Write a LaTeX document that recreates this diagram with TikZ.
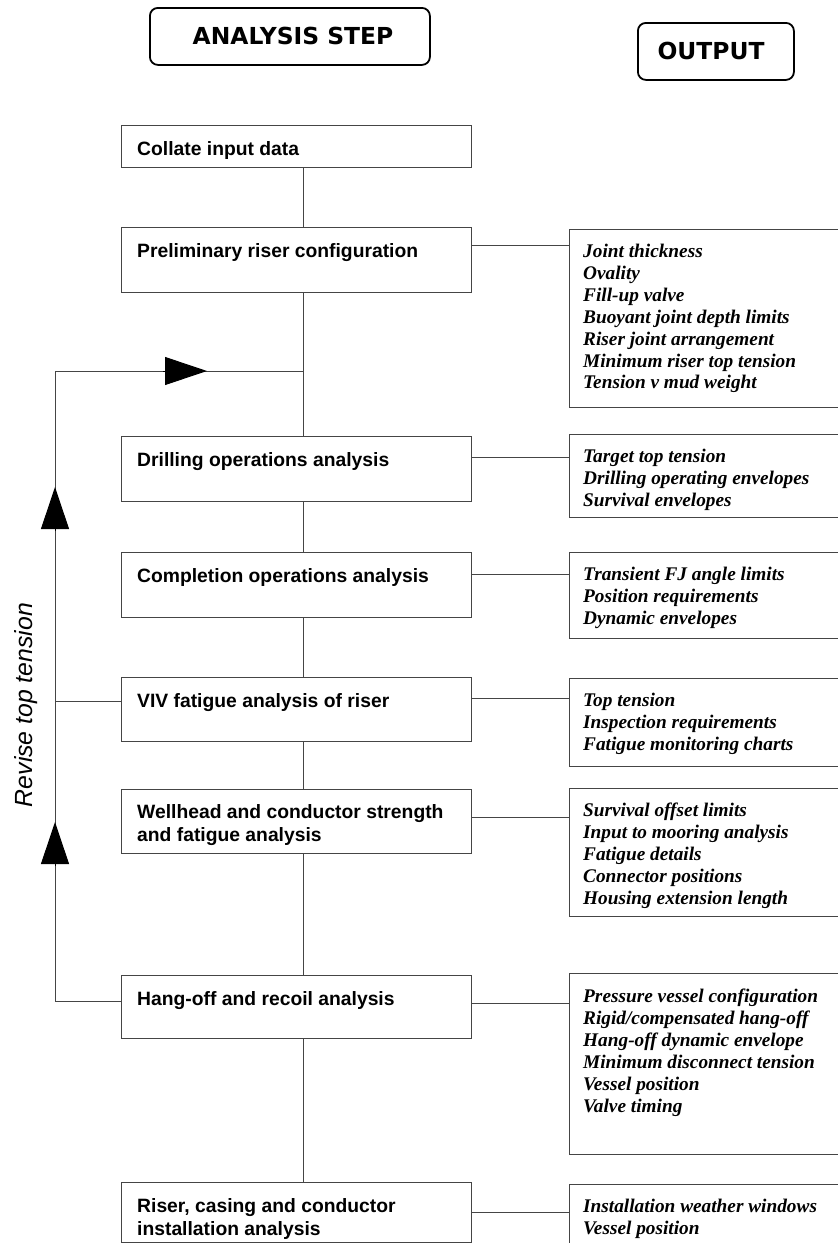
\documentclass[tikz,border=0pt]{standalone}
\usepackage{fontspec}
\setmainfont{Liberation Serif}
\setsansfont{Liberation Sans}
\newfontfamily\headfont{DejaVu Sans}
\usetikzlibrary{positioning,arrows.meta}

\definecolor{linegray}{HTML}{454545}

\tikzset{
  headbox/.style={draw, line width=1.8pt, rounded corners=8pt, anchor=north west, inner sep=0pt, minimum height=57pt},
  headtext/.style={font=\headfont\bfseries\fontsize{23.4}{28}\selectfont, inner sep=0pt},
  stepbox/.style={draw=linegray, line width=1.3pt, anchor=north west, minimum width=350pt, inner sep=0pt},
  steptext/.style={font=\sffamily\bfseries\fontsize{19.3}{23}\selectfont, align=left, inner sep=0pt},
  outbox/.style={draw=linegray, line width=1.3pt, anchor=north west, minimum width=290pt, inner sep=0pt},
  outtext/.style={font=\rmfamily\bfseries\itshape\fontsize{19.3}{21.9}\selectfont, align=left, inner sep=0pt},
  link/.style={draw=linegray, line width=1pt},
  bigtip/.style={-{Triangle[length=42pt,width=28pt]}, line width=1pt}
}

\begin{document}
\begin{tikzpicture}[x=1pt,y=-1pt]
\useasboundingbox (0,0) rectangle (838,1243);

% headings
\node[headbox, minimum width=280pt] (stephead) at (149,7) {};
\node[headtext] (stepheadtxt) at (293,36) {ANALYSIS STEP};
\node[headbox, minimum width=156pt] (outhead) at (637,22) {};
\node[headtext] (outheadtxt) at (711,51) {OUTPUT};

% analysis steps
\node[stepbox, minimum height=42pt] (collate) at (121,125) {};
\node[stepbox, minimum height=65pt] (prelim) at (121,227) {};
\node[stepbox, minimum height=65pt] (drill) at (121,436) {};
\node[stepbox, minimum height=65pt] (compl) at (121,552) {};
\node[stepbox, minimum height=64pt] (viv) at (121,677) {};
\node[stepbox, minimum height=64pt] (well) at (121,789) {};
\node[stepbox, minimum height=63pt] (hang) at (121,975) {};
\node[stepbox, minimum height=60pt] (riser) at (121,1182) {};

\node[steptext, below right=16pt and 16pt of collate.north west] (collatetxt) {Collate input data};
\node[steptext, below right=16pt and 16pt of prelim.north west] (prelimtxt) {Preliminary riser configuration};
\node[steptext, below right=16pt and 16pt of drill.north west] (drilltxt) {Drilling operations analysis};
\node[steptext, below right=16pt and 16pt of compl.north west] (compltxt) {Completion operations analysis};
\node[steptext, below right=16pt and 16pt of viv.north west] (vivtxt) {VIV fatigue analysis of riser};
\node[steptext, below right=15pt and 16pt of well.north west] (welltxt) {Wellhead and conductor strength\\and fatigue analysis};
\node[steptext, below right=16pt and 16pt of hang.north west] (hangtxt) {Hang-off and recoil analysis};
\node[steptext, below right=16pt and 16pt of riser.north west] (risertxt) {Riser, casing and conductor\\installation analysis};

% outputs
\node[outbox, minimum height=178pt] (prelimout) at (569,229) {};
\node[outbox, minimum height=83pt] (drillout) at (569,434) {};
\node[outbox, minimum height=86pt] (complout) at (569,552) {};
\node[outbox, minimum height=88pt] (vivout) at (569,678) {};
\node[outbox, minimum height=128pt] (wellout) at (569,788) {};
\node[outbox, minimum height=181pt] (hangout) at (569,973) {};
\node[outbox, minimum height=80pt] (riserout) at (569,1184) {};

\node[outtext, below right=15pt and 14pt of prelimout.north west] (prelimlist) {Joint thickness\\Ovality\\Fill-up valve\\Buoyant joint depth limits\\Riser joint arrangement\\Minimum riser top tension\\Tension v mud weight};
\node[outtext, below right=15pt and 14pt of drillout.north west] (drilllist) {Target top tension\\Drilling operating envelopes\\Survival envelopes};
\node[outtext, below right=15pt and 14pt of complout.north west] (compllist) {Transient FJ angle limits\\Position requirements\\Dynamic envelopes};
\node[outtext, below right=15pt and 14pt of vivout.north west] (vivlist) {Top tension\\Inspection requirements\\Fatigue monitoring charts};
\node[outtext, below right=15pt and 14pt of wellout.north west] (welllist) {Survival offset limits\\Input to mooring analysis\\Fatigue details\\Connector positions\\Housing extension length};
\node[outtext, below right=16pt and 14pt of hangout.north west] (hanglist) {Pressure vessel configuration\\Rigid/compensated hang-off\\Hang-off dynamic envelope\\Minimum disconnect tension\\Vessel position\\Valve timing};
\node[outtext, below right=15pt and 14pt of riserout.north west] (riserlist) {Installation weather windows\\Vessel position};

% main spine
\coordinate (spine) at (303,0);
\draw[link] (collate.south -| spine) -- (prelim.north -| spine);
\draw[link] (prelim.south -| spine) -- (drill.north -| spine);
\draw[link] (drill.south -| spine) -- (compl.north -| spine);
\draw[link] (compl.south -| spine) -- (viv.north -| spine);
\draw[link] (viv.south -| spine) -- (well.north -| spine);
\draw[link] (well.south -| spine) -- (hang.north -| spine);
\draw[link] (hang.south -| spine) -- (riser.north -| spine);

% step to output
\draw[link] ([yshift=-18pt]prelim.north east) -- ([yshift=-18pt]prelim.north east -| prelimout.west);
\draw[link] ([yshift=-21pt]drill.north east) -- ([yshift=-21pt]drill.north east -| drillout.west);
\draw[link] ([yshift=-22pt]compl.north east) -- ([yshift=-22pt]compl.north east -| complout.west);
\draw[link] ([yshift=-21pt]viv.north east) -- ([yshift=-21pt]viv.north east -| vivout.west);
\draw[link] ([yshift=-28pt]well.north east) -- ([yshift=-28pt]well.north east -| wellout.west);
\draw[link] ([yshift=-28pt]hang.north east) -- ([yshift=-28pt]hang.north east -| hangout.west);
\draw[link] ([yshift=-30pt]riser.north east) -- ([yshift=-30pt]riser.north east -| riserout.west);

% revise loop
\coordinate (looptop) at (55,371);
\draw[link] ([yshift=-26pt]hang.north west) -| (looptop) -- (looptop -| spine);
\draw[link] ([yshift=-24pt]viv.north west) -- ([yshift=-24pt]viv.north west -| looptop);

\coordinate (uptip1) at (55,487);
\coordinate (uptip2) at (55,822);
\coordinate (righttip) at (207,371);
\draw[bigtip] ([yshift=-44pt]uptip1) -- (uptip1);
\draw[bigtip] ([yshift=-44pt]uptip2) -- (uptip2);
\draw[bigtip] ([xshift=-44pt]righttip) -- (righttip);

\node[rotate=90, inner sep=0pt, font=\sffamily\itshape\fontsize{24.8}{28}\selectfont] (revise) at (26,705) {Revise top tension};
\end{tikzpicture}
\end{document}
